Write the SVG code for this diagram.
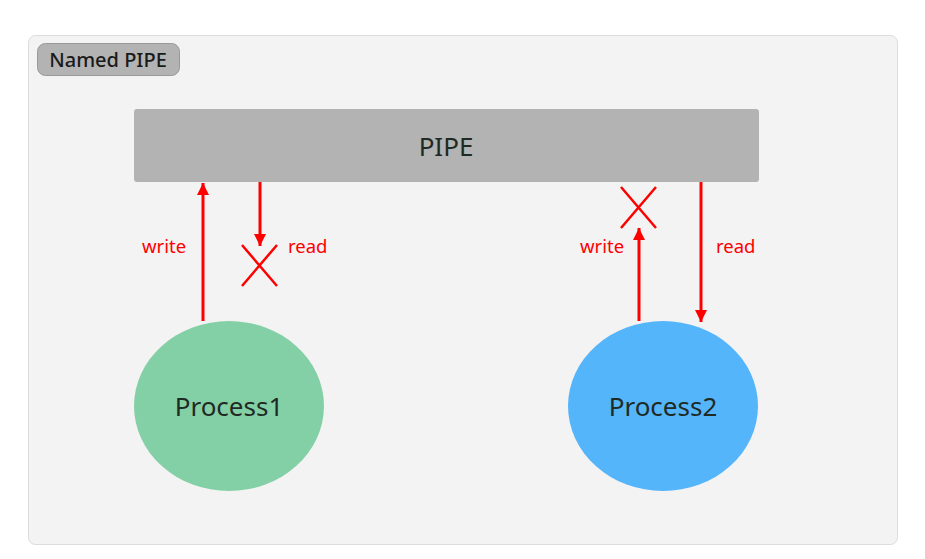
<svg xmlns="http://www.w3.org/2000/svg" width="925" height="559" viewBox="0 0 925 559">
<defs>
<style>
.lbl{font-family:"Noto Sans","Open Sans",sans-serif;fill:#ff0000;font-size:18.5px;}
.node{font-family:"Noto Sans","Open Sans",sans-serif;fill:#1f2a24;font-size:26px;text-anchor:middle;}
.line{stroke:#ff0000;stroke-width:3;fill:none;}
.cross{stroke:#ff0000;stroke-width:2.5;fill:none;}
</style>
<marker id="ah" viewBox="0 0 10 10" refX="10" refY="5" markerWidth="4" markerHeight="4" orient="auto" markerUnits="strokeWidth">
<path d="M0,0 L10,5 L0,10 z" fill="#ff0000"/>
</marker>
</defs>
<rect width="925" height="559" fill="#ffffff"/>
<g id="container">
<rect x="28.5" y="35.5" width="869" height="509" rx="7" fill="#f3f3f3" stroke="#dcdcdc" stroke-width="1"/>
<rect x="37.5" y="43.5" width="142" height="32" rx="8" fill="#b3b3b3" stroke="#999999" stroke-width="1"/>
<text x="108" y="67" font-family="'Noto Sans','Open Sans',sans-serif" font-size="20" font-weight="500" fill="#1a1a1a" text-anchor="middle">Named PIPE</text>
</g>
<g id="pipe">
<rect x="134" y="109" width="625" height="73" rx="3" fill="#b3b3b3"/>
<text class="node" x="446" y="156">PIPE</text>
</g>
<g id="process1">
<ellipse cx="229" cy="406" rx="95" ry="85" fill="#84d0a6"/>
<text class="node" x="229" y="416">Process1</text>
</g>
<g id="process2">
<ellipse cx="663" cy="406" rx="95" ry="85" fill="#54b5fb"/>
<text class="node" x="663" y="416">Process2</text>
</g>
<g id="connectors">
<line class="line" x1="203" y1="321" x2="203" y2="183" marker-end="url(#ah)"/>
<line class="line" x1="260" y1="182" x2="260" y2="246" marker-end="url(#ah)"/>
<line class="line" x1="639" y1="321" x2="639" y2="228" marker-end="url(#ah)"/>
<line class="line" x1="701" y1="182" x2="701" y2="322" marker-end="url(#ah)"/>
<path class="cross" d="M242,245 L277,286 M277,245 L242,286"/>
<path class="cross" d="M621,187 L656,228 M656,187 L621,228"/>
<text class="lbl" x="142" y="253">write</text>
<text class="lbl" x="288" y="253">read</text>
<text class="lbl" x="580" y="253">write</text>
<text class="lbl" x="716" y="253">read</text>
</g>
</svg>
